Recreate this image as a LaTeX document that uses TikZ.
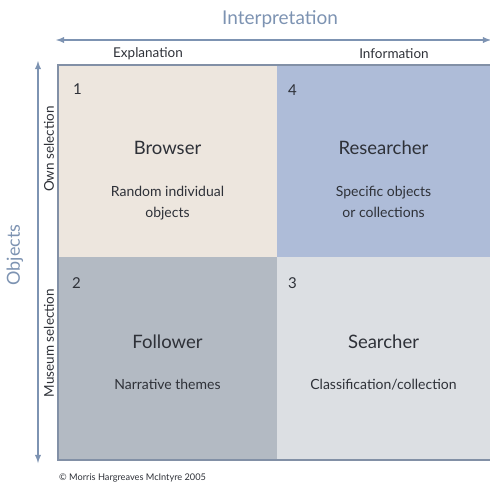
\documentclass[tikz,border=0pt]{standalone}
\usepackage{fontspec}
\setmainfont{Lato}
\usetikzlibrary{positioning,calc,arrows.meta}
\definecolor{mm-axis}{HTML}{7D93B2}
\definecolor{mm-line}{HTML}{8290A6}
\definecolor{mm-text}{HTML}{2E3138}
\definecolor{mm-beige}{HTML}{EDE6DE}
\definecolor{mm-blue}{HTML}{AEBCD8}
\definecolor{mm-slate}{HTML}{B3BAC3}
\definecolor{mm-pale}{HTML}{DCDFE3}

\begin{document}
\begin{tikzpicture}[
    x=1pt, y=-1pt,
    node distance=24pt,
    >=latex,
    text=mm-text
  ]

  % Styles for the four segments and their labels
  \tikzset{
    quad/.style={minimum width=#1, inner sep=0pt, outer sep=0pt, anchor=north west},
    role/.style={font=\fontsize{18.5}{20}\selectfont},
    desc/.style={font=\fontsize{14}{21}\selectfont, align=center},
    num/.style={font=\fontsize{15}{17}\selectfont, anchor=north west, inner sep=0pt},
    axis/.style={mm-axis, line width=1.8pt},
    pole/.style={font=\fontsize{13.5}{15}\selectfont},
    border/.style={draw=mm-line, line width=1.6pt}
  }

  \useasboundingbox (0,0) rectangle (490,485);

  % Segments
  \node (browser) [quad=219pt, minimum height=192pt, fill=mm-beige] at (58,65) {};
  \node (researcher) [quad=213pt, minimum height=192pt, fill=mm-blue] at (277,65) {};
  \node (follower) [quad=219pt, minimum height=203pt, fill=mm-slate] at (58,257) {};
  \node (searcher) [quad=213pt, minimum height=203pt, fill=mm-pale] at (277,257) {};

  \draw[border] (researcher.north east) -- (browser.north west)
    -- (follower.south west) -- (searcher.south east);

  % Numbers
  \node [num] at ($(browser.north west)+(15,19)$) {1};
  \node [num] at ($(researcher.north west)+(11,20)$) {4};
  \node [num] at ($(follower.north west)+(14,20)$) {2};
  \node [num] at ($(searcher.north west)+(11,20)$) {3};

  % Titles and descriptions
  \node (browser-t) [role] at ([yshift=13pt]browser.center) {Browser};
  \node [desc, below=of browser-t] {Random individual\\objects};
  \node (researcher-t) [role] at ([yshift=13pt]researcher.center) {Researcher};
  \node [desc, below=of researcher-t] {Specific objects\\or collections};
  \node (follower-t) [role] at ([yshift=17pt]follower.center) {Follower};
  \node [desc, below=of follower-t] {Narrative themes};
  \node (searcher-t) [role] at ([yshift=17pt]searcher.center) {Searcher};
  \node [desc, below=of searcher-t] {Classification/collection};

  % Interpretation axis
  \coordinate (int-l) at (56,40);
  \coordinate (int-r) at (491,40);
  \draw[<->, axis] (int-l) -- (int-r);
  \node (interp) [mm-axis, font=\fontsize{19}{21}\selectfont] at (280,19) {Interpretation};
  \node [pole] at (148,54) {Explanation};
  \node [pole] at (394,54) {Information};

  % Objects axis
  \coordinate (obj-t) at (38,61);
  \coordinate (obj-b) at (38,463);
  \draw[<->, axis] (obj-t) -- (obj-b);
  \node (objects) [mm-axis, rotate=90, font=\fontsize{18}{20}\selectfont] at (15,255) {Objects};
  \node [pole, rotate=90] at (49,149) {Own selection};
  \node [pole, rotate=90] at (49,343) {Museum selection};

  \node [anchor=west, inner sep=0pt, font=\fontsize{9.2}{10}\selectfont] at (59,478)
    {\textcopyright{} Morris Hargreaves McIntyre 2005};

\end{tikzpicture}
\end{document}
